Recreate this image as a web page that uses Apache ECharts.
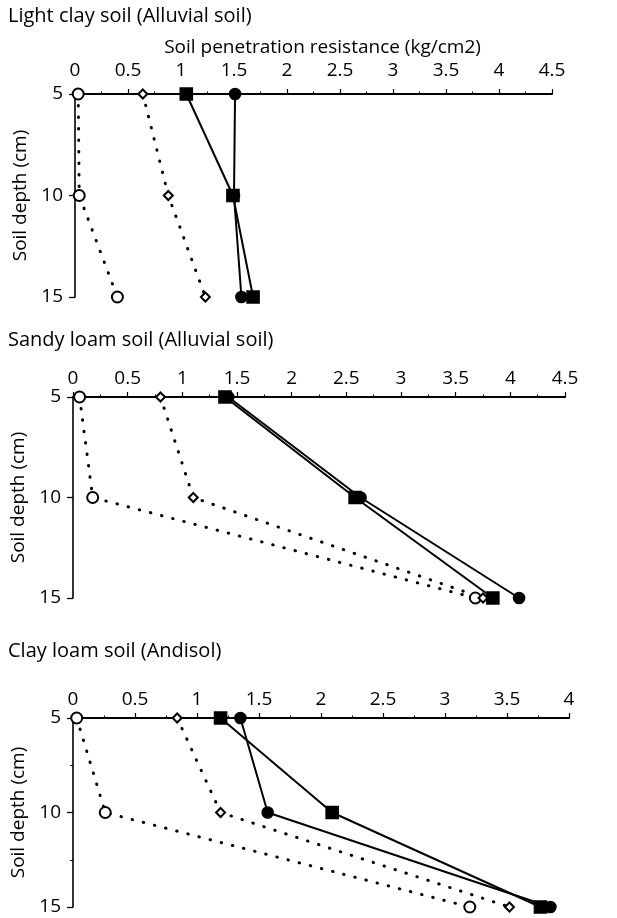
<!DOCTYPE html>
<html>
<head>
<meta charset="utf-8">
<script src="https://cdn.jsdelivr.net/npm/echarts@6/dist/echarts.min.js"></script>
<style>html,body{margin:0;padding:0;background:#fff}#c{width:617px;height:918px}</style>
</head>
<body>
<div id="c"></div>
<script>
// ---- data ----
const depths = [5, 10, 15];
const panelTitles = ['Light clay soil (Alluvial soil)', 'Sandy loam soil (Alluvial soil)', 'Clay loam soil (Andisol)'];
const xAxisName = 'Soil penetration resistance (kg/cm2)';
const yAxisName = 'Soil depth (cm)';
const xMax = [4.5, 4.5, 4];
// panel 1: light clay
const p1OpenCircle = [0.03, 0.04, 0.40];
const p1OpenDiamond = [0.64, 0.88, 1.23];
const p1FilledSquare = [1.05, 1.49, 1.68];
const p1FilledCircle = [1.51, 1.50, 1.57];
// panel 2: sandy loam
const p2OpenCircle = [0.06, 0.18, 3.68];
const p2OpenDiamond = [0.80, 1.10, 3.75];
const p2FilledSquare = [1.39, 2.58, 3.84];
const p2FilledCircle = [1.42, 2.63, 4.08];
// panel 3: clay loam
const p3OpenCircle = [0.03, 0.26, 3.20];
const p3OpenDiamond = [0.84, 1.19, 3.52];
const p3FilledSquare = [1.19, 2.09, 3.77];
const p3FilledCircle = [1.35, 1.57, 3.85];

const panels = [
  [p1OpenCircle, p1OpenDiamond, p1FilledSquare, p1FilledCircle],
  [p2OpenCircle, p2OpenDiamond, p2FilledSquare, p2FilledCircle],
  [p3OpenCircle, p3OpenDiamond, p3FilledSquare, p3FilledCircle]
];

// ---- layout ----
const FONT = 'Open Sans';
const FS = 19;
const grids = [
  {left: 75, top: 94, width: 477, height: 203},
  {left: 73, top: 397, width: 492, height: 201},
  {left: 73, top: 718, width: 496, height: 189}
];
const titleTops = [6, 330, 641];
const labelMargins = [14, 9, 9];
const yNameGaps = [40, 38, 38];

const chart = echarts.init(document.getElementById('c'), null, {renderer: 'canvas'});

const styles = [
  {symbol: 'emptyCircle', symbolSize: 11, dotted: true},
  {symbol: 'emptyDiamond', symbolSize: 9, dotted: true},
  {symbol: 'rect', symbolSize: 12, dotted: false},
  {symbol: 'circle', symbolSize: 11, dotted: false}
];

const series = [];
panels.forEach((vals, pi) => {
  vals.forEach((arr, si) => {
    const st = styles[si];
    series.push({
      type: 'line',
      xAxisIndex: pi, yAxisIndex: pi,
      data: arr.map((v, k) => [v, depths[k]]),
      symbol: st.symbol,
      symbolSize: st.symbolSize,
      showSymbol: true,
      lineStyle: st.dotted
        ? {color: '#000', width: 3, type: [0.5, 11], cap: 'round'}
        : {color: '#000', width: 2, type: 'solid'},
      itemStyle: {color: '#000', borderColor: '#000', borderWidth: 1.6},
      z: st.dotted ? 2 : 3,
      animation: false
    });
  });
});

const option = {
  backgroundColor: '#fff',
  animation: false,
  textStyle: {fontFamily: FONT, color: '#000'},
  title: panelTitles.map((t, i) => ({
    text: t, left: 8, top: titleTops[i], padding: 0,
    textStyle: {fontFamily: FONT, fontSize: 20, fontWeight: 'normal', color: '#000'}
  })),
  grid: grids,
  xAxis: grids.map((g, i) => ({
    type: 'value', gridIndex: i, position: 'top',
    min: 0, max: xMax[i], interval: 0.5,
    name: i === 0 ? xAxisName : '',
    nameLocation: 'middle', nameGap: 37,
    nameTextStyle: {fontFamily: FONT, fontSize: FS, color: '#000', padding: [0, 0, 0, 18]},
    axisLine: {show: true, onZero: false, lineStyle: {color: '#000', width: 2.2}},
    axisTick: {show: true, inside: false, length: 5, lineStyle: {color: '#000', width: 1.2}},
    minorTick: {show: true, splitNumber: 2, length: 2.5, lineStyle: {color: '#000', width: 1}},
    axisLabel: {fontFamily: FONT, fontSize: FS, color: '#000', margin: labelMargins[i],
      formatter: v => String(v)},
    splitLine: {show: false}
  })),
  yAxis: grids.map((g, i) => ({
    type: 'value', gridIndex: i, inverse: true,
    min: 5, max: 15, interval: 5,
    name: yAxisName, nameLocation: 'middle', nameGap: yNameGaps[i], nameRotate: 90,
    nameTextStyle: {fontFamily: FONT, fontSize: FS, color: '#000'},
    axisLine: {show: true, onZero: false, lineStyle: {color: '#000', width: 1.6}},
    axisTick: {show: true, inside: false, length: 6, lineStyle: {color: '#000', width: 1.3}},
    minorTick: {show: i === 2, splitNumber: 2, length: 3, lineStyle: {color: '#000', width: 1}},
    axisLabel: {fontFamily: FONT, fontSize: FS, color: '#000', margin: 12},
    splitLine: {show: false}
  })),
  series: series
};
chart.setOption(option);
</script>
</body>
</html>
